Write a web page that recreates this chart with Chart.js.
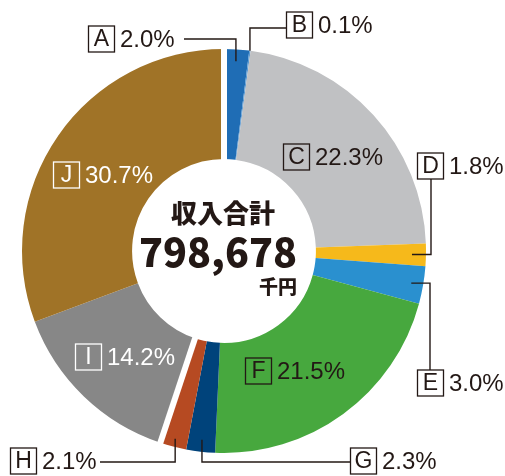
<!DOCTYPE html>
<html>
<head>
<meta charset="utf-8">
<script src="https://cdn.jsdelivr.net/npm/chart.js@4/dist/chart.umd.min.js"></script>
<style>
  body { margin: 0; background: #fff; }
</style>
</head>
<body>
<canvas id="incomeChart" width="505" height="476"></canvas>
<script>
// data (percent of total income)
const categories = ['A', 'B', 'C', 'D', 'E', 'F', 'G', 'H', 'I', 'J'];
const shares = [2.0, 0.1, 22.3, 1.8, 3.0, 21.5, 2.3, 2.1, 14.2, 30.7];
const shareLabels = ['2.0%', '0.1%', '22.3%', '1.8%', '3.0%', '21.5%', '2.3%', '2.1%', '14.2%', '30.7%'];
const totalTitle = '収入合計';
const totalValue = '798,678';
const totalUnit = '千円';

const colors = ['#1f6db5', '#5b9ad2', '#c0c1c3', '#f6b91b', '#2a90cf', '#47a83e', '#00437b', '#b64a22', '#878787', '#a07327'];
const ink = '#231815';

// labels drawn inside the ring: box left x, centre y, colour
const insideTags = {
    C: { x: 283, y: 157, color: ink },
    F: { x: 245, y: 371, color: ink },
    I: { x: 75, y: 357, color: '#fff' },
    J: { x: 53, y: 175, color: '#fff' }
};
// labels outside with leader lines
const outsideTags = {
    A: { x: 88, y: 39, inset: 12, path: 'v', lineY: 39, endX: 184 },
    B: { x: 286, y: 25, inset: 0, path: 'v', lineY: 28, endX: 286 },
    D: { x: 417, y: 166, inset: 14, path: 'h', lineX: 431, endY: 179 },
    E: { x: 417, y: 383, inset: 12, path: 'h', lineX: 430, endY: 370 },
    G: { x: 350, y: 461, inset: 12, path: 'v', lineY: 462, endX: 350 },
    H: { x: 10, y: 461, inset: 8, path: 'v', lineY: 462, endX: 100 }
};

function drawTag(ctx, letter, text, x, y, color) {
    const size = 26;
    ctx.save();
    ctx.strokeStyle = color;
    ctx.fillStyle = color;
    ctx.lineWidth = 1.3;
    ctx.strokeRect(x + 0.5, y - size / 2, size, size);
    ctx.font = '23px "Liberation Sans", Arial, sans-serif';
    ctx.textBaseline = 'middle';
    ctx.textAlign = 'center';
    ctx.fillText(letter, x + size / 2 + 0.5, y + 1);
    ctx.font = '24px "Liberation Sans", Arial, sans-serif';
    ctx.textAlign = 'left';
    ctx.fillText(text, x + 32, y + 1);
    ctx.restore();
}

const ringDecor = {
    id: 'ringDecor',
    afterDatasetsDraw(chart) {
        const ctx = chart.ctx;
        const arcs = chart.getDatasetMeta(0).data;
        const props = arcs.map(a => a.getProps(['x', 'y', 'startAngle', 'endAngle', 'innerRadius', 'outerRadius'], true));

        // white separators: J|A at the top and H|I at the bottom left
        ctx.save();
        ctx.strokeStyle = '#fff';
        ctx.lineWidth = 6;
        [0, 8].forEach(i => {
            const p = props[i];
            const a = p.startAngle;
            ctx.beginPath();
            ctx.moveTo(p.x + (p.innerRadius - 2) * Math.cos(a), p.y + (p.innerRadius - 2) * Math.sin(a));
            ctx.lineTo(p.x + (p.outerRadius + 3) * Math.cos(a), p.y + (p.outerRadius + 3) * Math.sin(a));
            ctx.stroke();
        });
        ctx.restore();

        // leader lines
        ctx.save();
        ctx.strokeStyle = ink;
        ctx.lineWidth = 1.4;
        Object.keys(outsideTags).forEach(key => {
            const t = outsideTags[key];
            const p = props[categories.indexOf(key)];
            const mid = (p.startAngle + p.endAngle) / 2;
            const r = p.outerRadius - t.inset;
            const ax = p.x + r * Math.cos(mid);
            const ay = p.y + r * Math.sin(mid);
            ctx.beginPath();
            ctx.moveTo(ax, ay);
            if (t.path === 'v') {
                ctx.lineTo(ax, t.lineY);
                ctx.lineTo(t.endX, t.lineY);
            } else {
                ctx.lineTo(t.lineX, ay);
                ctx.lineTo(t.lineX, t.endY);
            }
            ctx.stroke();
            drawTag(ctx, key, shareLabels[categories.indexOf(key)], t.x, t.y, ink);
        });
        ctx.restore();

        Object.keys(insideTags).forEach(key => {
            const t = insideTags[key];
            drawTag(ctx, key, shareLabels[categories.indexOf(key)], t.x, t.y, t.color);
        });

        // centre total
        ctx.save();
        ctx.fillStyle = ink;
        ctx.textAlign = 'center';
        ctx.textBaseline = 'alphabetic';
        ctx.font = '900 26px "Noto Sans CJK JP", sans-serif';
        ctx.fillText(totalTitle, 223, 223);
        ctx.font = '900 40px "Noto Sans CJK JP", sans-serif';
        const w = ctx.measureText(totalValue).width;
        ctx.save();
        ctx.translate(218, 267);
        ctx.scale(158 / w, 1);
        ctx.fillText(totalValue, 0, 0);
        ctx.restore();
        ctx.textAlign = 'right';
        ctx.font = '900 19px "Noto Sans CJK JP", sans-serif';
        ctx.fillText(totalUnit, 297, 294);
        ctx.restore();
    }
};

const chartCtx = document.getElementById('incomeChart').getContext('2d');
const incomeChart = new Chart(chartCtx, {
    type: 'doughnut',
    data: {
        labels: categories,
        datasets: [{
            data: shares,
            backgroundColor: colors,
            borderWidth: 0
        }]
    },
    options: {
        responsive: false,
        animation: false,
        cutout: '45.5%',
        layout: { padding: { left: 22, right: 79, top: 49, bottom: 23 } },
        plugins: {
            legend: { display: false },
            tooltip: { enabled: false }
        }
    },
    plugins: [ringDecor]
});
</script>
</body>
</html>
